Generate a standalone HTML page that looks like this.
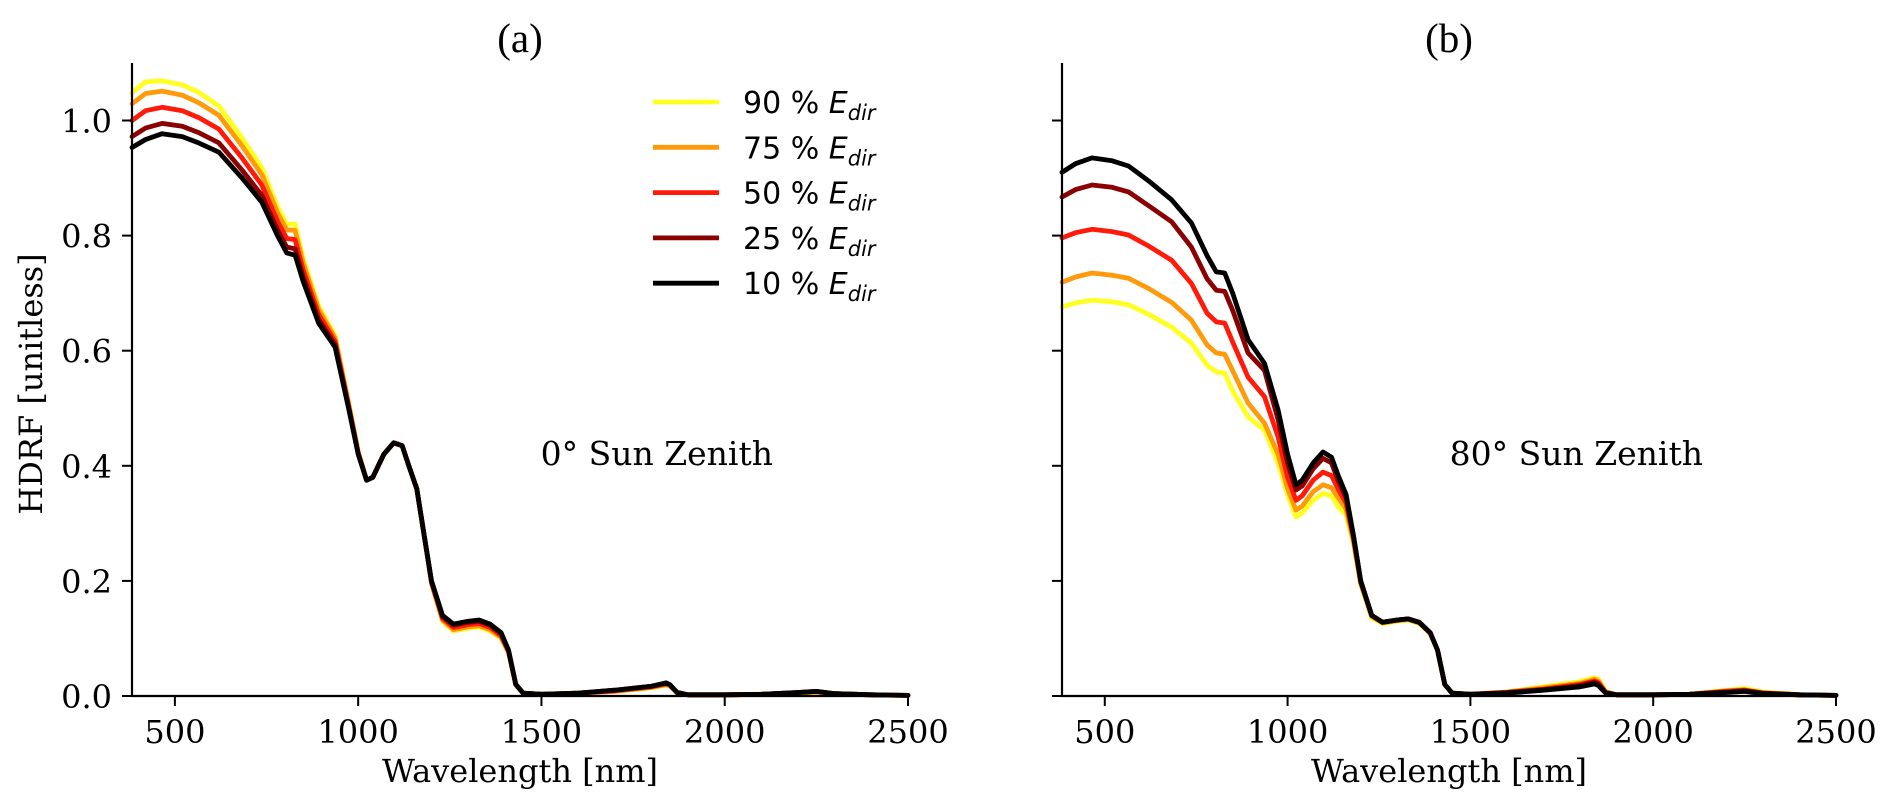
<!DOCTYPE html>
<html><head><meta charset="utf-8"><style>
html,body{margin:0;padding:0;background:#fff;}
svg{display:block;}
</style></head><body>
<svg id="chart" width="1892" height="810" viewBox="0 0 1892 810" xmlns="http://www.w3.org/2000/svg">
<rect width="1892" height="810" fill="#fff"/>
</svg>
<script>
const wavelengths=[383,420,465,520,565,620,683,737,780,805,828,850,892,937,974,1000,1023,1040,1070,1097,1120,1138,1160,1180,1200,1230,1260,1300,1330,1360,1390,1410,1430,1450,1500,1600,1700,1800,1840,1850,1870,1900,2000,2100,2200,2250,2300,2400,2500];
const seriesLabels=["90","75","50","25","10"];
// Panel (a) 0° sun zenith
const a90=[1.048,1.067,1.069,1.062,1.049,1.025,.970,.918,.850,.820,.820,.760,.678,.626,.510,.425,.375,.380,.420,.440,.435,.400,.360,.280,.195,.130,.113,.118,.120,.113,.100,.075,.020,.005,.003,.005,.008,.014,.019,.017,.006,.002,.002,.003,.005,.007,.004,.002,.001];
const a75=[1.029,1.047,1.051,1.044,1.031,1.009,.956,.906,.840,.810,.809,.752,.672,.622,.508,.424,.375,.380,.420,.440,.435,.400,.360,.280,.196,.132,.115,.120,.122,.115,.102,.076,.020,.005,.003,.005,.008,.015,.020,.018,.006,.002,.002,.003,.005,.007,.004,.002,.001];
const a50=[1.000,1.017,1.023,1.017,1.005,.985,.935,.888,.825,.795,.793,.740,.663,.616,.505,.422,.375,.380,.420,.440,.435,.400,.360,.280,.198,.135,.119,.124,.126,.119,.105,.078,.020,.005,.003,.005,.009,.016,.021,.019,.006,.002,.002,.003,.006,.008,.004,.002,.001];
const a25=[.972,.987,.995,.990,.979,.961,.914,.870,.810,.780,.777,.728,.654,.610,.502,.421,.375,.380,.420,.440,.435,.400,.360,.280,.199,.138,.123,.128,.130,.123,.108,.079,.020,.005,.003,.005,.010,.017,.022,.020,.006,.002,.002,.003,.006,.008,.004,.002,.001];
const a10=[.953,.967,.977,.972,.961,.945,.900,.858,.800,.770,.766,.720,.648,.606,.500,.420,.375,.380,.420,.440,.435,.400,.360,.280,.200,.140,.125,.130,.132,.125,.110,.080,.020,.005,.003,.005,.010,.017,.023,.020,.006,.002,.002,.003,.006,.008,.004,.002,.001];
// Panel (b) 80° sun zenith
const b90=[.676,.683,.688,.685,.680,.663,.641,.613,.575,.563,.561,.530,.485,.462,.405,.350,.311,.318,.340,.352,.348,.329,.315,.265,.194,.136,.126,.130,.132,.126,.108,.080,.020,.005,.003,.007,.016,.025,.032,.029,.008,.002,.002,.003,.010,.013,.007,.002,.001];
const b75=[.719,.728,.735,.731,.726,.708,.684,.653,.610,.596,.594,.565,.509,.474,.420,.360,.323,.330,.355,.367,.362,.345,.325,.270,.196,.138,.127,.131,.133,.127,.109,.080,.020,.005,.003,.007,.014,.022,.029,.026,.007,.002,.002,.003,.009,.011,.006,.002,.001];
const b50=[.796,.805,.811,.807,.801,.782,.757,.717,.665,.650,.648,.615,.554,.520,.450,.380,.340,.348,.375,.389,.383,.360,.335,.275,.198,.140,.128,.132,.134,.128,.110,.080,.020,.005,.003,.006,.012,.020,.026,.023,.006,.002,.002,.003,.008,.010,.005,.002,.001];
const b25=[.867,.880,.888,.884,.876,.852,.824,.780,.725,.705,.703,.670,.596,.566,.480,.405,.358,.365,.395,.413,.405,.375,.345,.278,.200,.140,.128,.132,.134,.128,.110,.080,.020,.005,.003,.006,.011,.018,.024,.021,.006,.002,.002,.003,.007,.009,.005,.002,.001];
const b10=[.910,.925,.935,.930,.921,.895,.862,.822,.765,.737,.735,.700,.619,.578,.497,.420,.367,.375,.405,.424,.415,.384,.350,.280,.200,.140,.128,.132,.134,.128,.110,.080,.020,.005,.003,.005,.010,.016,.021,.018,.005,.002,.002,.003,.006,.008,.004,.002,.001];
const xTicks=[500,1000,1500,2000,2500];
const yTicks=[0.0,0.2,0.4,0.6,0.8,1.0];
const yTickLabels=["0.0","0.2","0.4","0.6","0.8","1.0"];

const NS="http://www.w3.org/2000/svg";
const svg=document.getElementById('chart');
const colors=["#ffff22","#ff9a0a","#ff1a0a","#8b0000","#000000"];
const XMIN=383,XMAX=2500,YMIN=0,YMAX=1.1;
const Y0=696,YPER=575.5;
function mk(tag,attrs,parent){const e=document.createElementNS(NS,tag);for(const k in attrs)e.setAttribute(k,attrs[k]);(parent||svg).appendChild(e);return e;}
function makeAxes(left,right){
  return {x:v=>left+(v-XMIN)/(XMAX-XMIN)*(right-left), y:v=>Y0-(v-YMIN)*YPER};
}
function panel(id,left,right,title,note,series,showYLabels){
  const ax=makeAxes(left,right);
  const g=mk('g',{});
  
  
  const t=mk('text',{x:(left+right)/2,y:52,'text-anchor':'middle','font-family':'"Liberation Serif",serif','font-size':41,fill:'#000'},g);
  t.textContent=title;
  
  
  series.forEach((s,i)=>{
    const n=Math.min(s.length,wavelengths.length);
    let pts=[];
    for(let k=0;k<n;k++)pts.push(ax.x(wavelengths[k]).toFixed(1)+','+ax.y(s[k]).toFixed(1));
    const p=mk('polyline',{points:pts.join(' '),fill:'none',stroke:colors[i],'stroke-width':4.8,'stroke-linejoin':'round','stroke-linecap':'round'},g);
    
    
  });
  const yTop=ax.y(YMAX);
  const sp=mk('path',{d:`M${left},${yTop}V${Y0}H${right}`,fill:'none',stroke:'#000','stroke-width':2.2},g);
  
  
  xTicks.forEach(v=>{
    const x=ax.x(v);
    const tk=mk('line',{x1:x,x2:x,y1:Y0,y2:Y0+10,stroke:'#000','stroke-width':2},g);
    
    
    const tl=mk('text',{x:x,y:743,'text-anchor':'middle','font-family':'"DejaVu Serif",serif','font-size':32,fill:'#000'},g);
    tl.textContent=v;
    
    
  });
  yTicks.forEach((v,i)=>{
    const y=ax.y(v);
    const tk=mk('line',{x1:left-10,x2:left,y1:y,y2:y,stroke:'#000','stroke-width':2},g);
    
    
    if(showYLabels){
      const tl=mk('text',{x:left-20,y:y+12,'text-anchor':'end','font-family':'"DejaVu Serif",serif','font-size':32,fill:'#000'},g);
      tl.textContent=yTickLabels[i];
      
      
    }
  });
  const xl=mk('text',{x:(left+right)/2,y:782,'text-anchor':'middle','font-family':'"DejaVu Serif",serif','font-size':32,fill:'#000'},g);
  xl.textContent='Wavelength [nm]';
  
  
  const nt=mk('text',{x:left+641,y:465,'text-anchor':'end','font-family':'"DejaVu Serif",serif','font-size':33,fill:'#000'},g);
  nt.textContent=note;
  
  
  return ax;
}
panel('a',132,908,'(a)','0° Sun Zenith',[a90,a75,a50,a25,a10],true);
panel('b',1062,1836,'(b)','80° Sun Zenith',[b90,b75,b50,b25,b10],false);

const yl=mk('text',{x:0,y:0,'text-anchor':'middle','font-family':'"DejaVu Serif",serif','font-size':32,fill:'#000',transform:'translate(42,384) rotate(-90)'});
yl.textContent='HDRF [unitless]';



const lg=mk('g',{});


seriesLabels.forEach((lab,i)=>{
  const y=102+i*45.3;
  const row=mk('g',{},lg);
  
  
  mk('line',{x1:653,x2:719,y1:y,y2:y,stroke:colors[i],'stroke-width':4.8},row);
  const tx=mk('text',{x:743,y:y+11,'font-family':'"DejaVu Sans",sans-serif','font-size':30,fill:'#000'},row);
  tx.appendChild(document.createTextNode(lab+' % '));
  const e=mk('tspan',{'font-style':'italic'},tx);e.textContent='E';
  const sub=mk('tspan',{'font-style':'italic','font-size':21,dy:7},tx);sub.textContent='dir';
});
</script>
</body></html>
